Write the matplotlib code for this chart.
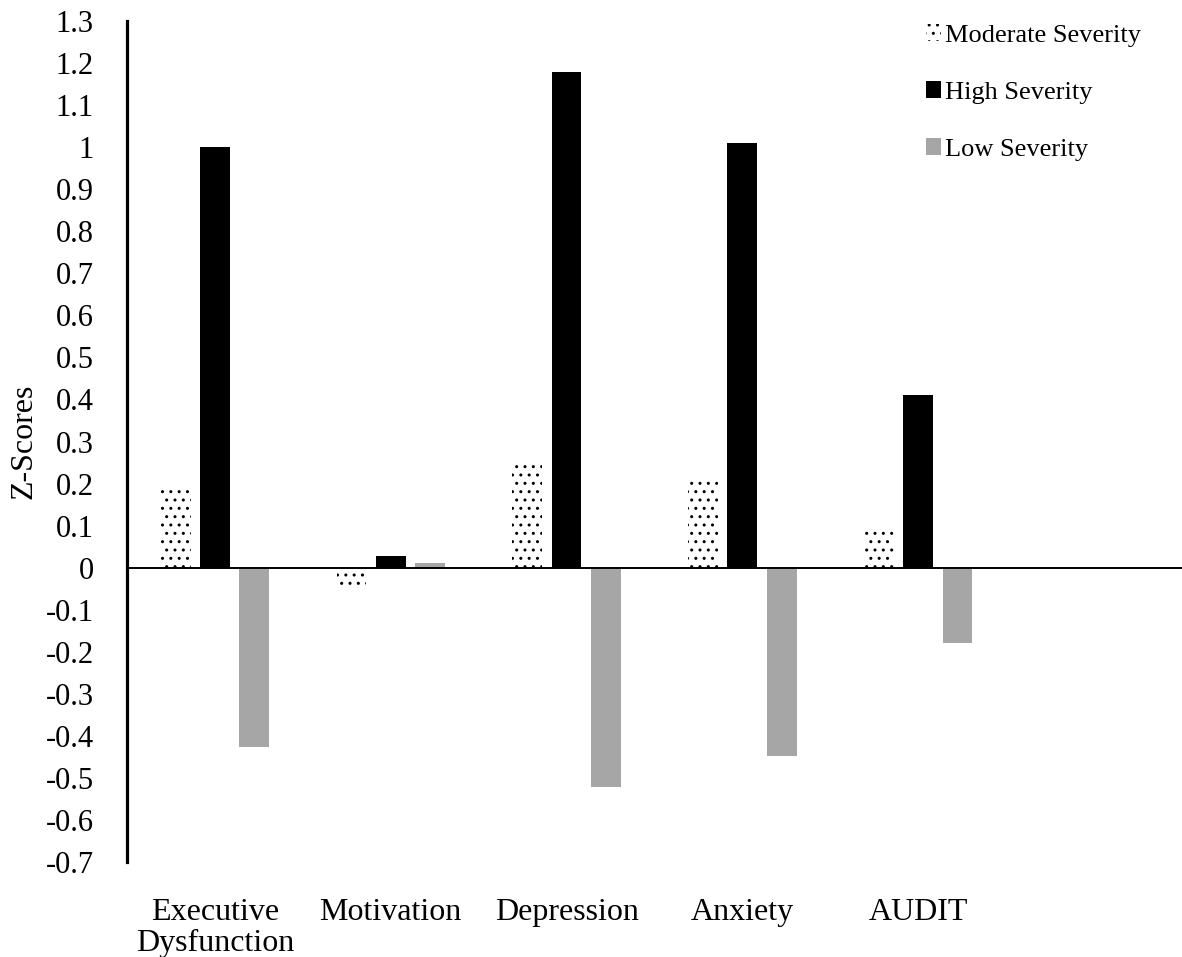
import matplotlib.pyplot as plt
import numpy as np

plt.rcParams['font.family'] = ['Liberation Serif', 'DejaVu Serif']

categories = ['Executive\nDysfunction', 'Motivation', 'Depression', 'Anxiety', 'AUDIT']
moderate = [0.195, -0.048, 0.254, 0.215, 0.092]
high = [1.0, 0.028, 1.18, 1.01, 0.41]
low = [-0.427, 0.01, -0.522, -0.448, -0.179]
yticks = np.round(np.arange(-0.7, 1.31, 0.1), 1)

fig = plt.figure(figsize=(11.82, 9.57), dpi=100)
ax = fig.add_axes([0.1074, 0.0993, 0.8926, 0.8787])

x = np.arange(len(categories))
w = 0.17
off = 0.223
ax.bar(x - off, moderate, w, color='white', edgecolor='black', hatch='..',
       linewidth=0, label='Moderate Severity')
ax.bar(x, high, w, color='black', label='High Severity')
ax.bar(x + off, low, w, color='#a6a6a6', label='Low Severity')

ax.axhline(0, color='black', linewidth=1.4, zorder=3)

ax.set_xlim(-0.5, 5.5)
ax.set_ylim(-0.7, 1.3)
ax.set_yticks(yticks)
ax.set_yticklabels(['0' if v == 0 else ('1' if v == 1 else f'{v:g}') for v in yticks])
ax.set_xticks(x)
ax.set_xticklabels(categories)
ax.tick_params(axis='y', length=0, labelsize=22, pad=24)
ax.tick_params(axis='x', length=0, labelsize=23, pad=26)
for lbl in ax.get_xticklabels():
    lbl.set_linespacing(1.08)

for s in ['top', 'right', 'bottom']:
    ax.spines[s].set_visible(False)
ax.spines['left'].set_linewidth(2.3)

ax.set_ylabel('Z-Scores', fontsize=23)
ax.yaxis.set_label_coords(-0.084, 0.5)

ax.legend(loc='upper left', bbox_to_anchor=(0.783, 0.975), bbox_transform=fig.transFigure,
          frameon=False, fontsize=19, handlelength=0.6, handleheight=0.6, handletextpad=0.15,
          labelspacing=1.3, borderaxespad=0, borderpad=0)

fig.savefig('out.png', dpi=100)
